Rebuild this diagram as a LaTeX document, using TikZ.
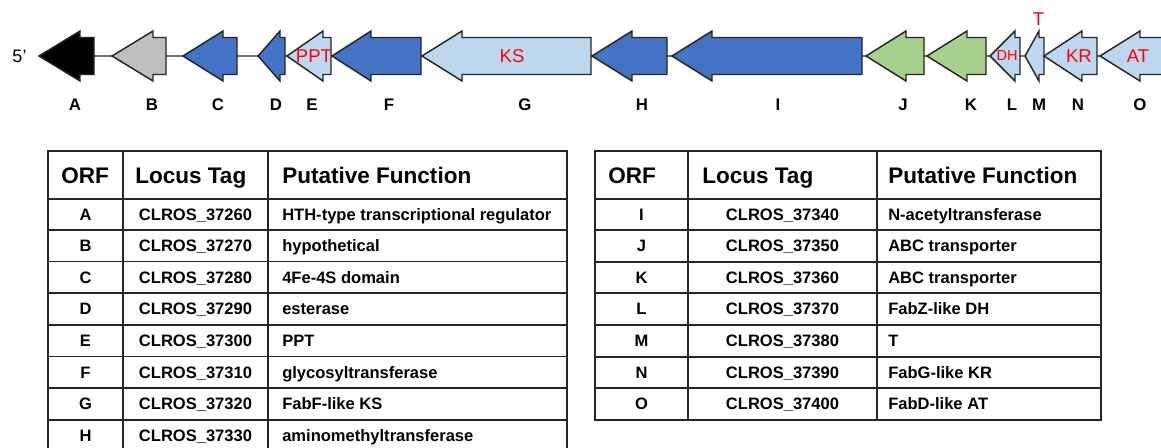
\documentclass[tikz,border=0pt]{standalone}
\usepackage{fontspec}
\setmainfont{Liberation Sans}
\definecolor{dblue}{HTML}{4472C4}
\definecolor{lblue}{HTML}{BDD7EE}
\definecolor{lgreen}{HTML}{A9D18E}
\definecolor{lgray}{HTML}{BFBFBF}
\definecolor{outl}{HTML}{262626}
\definecolor{redlab}{HTML}{FF0000}
\newcommand{\genearrow}[4]{% tip, base, end, fill
  \draw[genebox, fill=#4] (#1,56) -- (#2,31) -- (#2,37.5) -- (#3,37.5) -- (#3,74.5) -- (#2,74.5) -- (#2,81) -- cycle;}
\tikzset{
  genebox/.style={draw=outl, line width=1.1pt, line join=miter},
  genelab/.style={font=\fontsize{12.6}{14}\selectfont\bfseries, anchor=base, inner sep=0pt},
  redlab/.style={font=\fontsize{13.9}{16}\selectfont, text=redlab, inner sep=0pt},
  tabline/.style={draw=outl, line width=1.2pt},
  headtxt/.style={font=\fontsize{16.9}{19}\selectfont\bfseries, anchor=base west, inner sep=0pt},
  celltxt/.style={font=\fontsize{12.4}{14}\selectfont\bfseries, anchor=base, inner sep=0pt},
  celltxtl/.style={font=\fontsize{12.4}{14}\selectfont\bfseries, anchor=base west, inner sep=0pt},
}
\begin{document}
\begin{tikzpicture}[x=0.75pt,y=-0.75pt]
\useasboundingbox (0,0) rectangle (1161,447);
\clip (0,0) rectangle (1161,447);
% backbone
\coordinate (bbL) at (39,56);
\coordinate (bbR) at (1161,56);
\draw[draw=gray!90!black, line width=0.8pt] (bbL) -- (bbR);
\node[font=\fontsize{13.5}{16}\selectfont, inner sep=0pt] (five) at (19.5,56.5) {5’};
% genes
\genearrow{39}{80}{94}{black}
\genearrow{112}{153}{166}{lgray}
\genearrow{183}{223}{237}{dblue}
\genearrow{258}{280}{285}{dblue}
\genearrow{287}{323}{331}{lblue}
\genearrow{332}{371}{421}{dblue}
\genearrow{422}{462}{591}{lblue}
\genearrow{592}{632}{667}{dblue}
\genearrow{672}{712}{862}{dblue}
\genearrow{866}{906}{924}{lgreen}
\genearrow{927}{967}{986}{lgreen}
\genearrow{990}{1015}{1020}{lblue}
\genearrow{1025}{1039}{1044}{lblue}
\genearrow{1044}{1082}{1097}{lblue}
\genearrow{1100}{1140}{1180}{lblue}
% red domain labels
\node[redlab] (ppt) at (314,56) {PPT};
\node[redlab] (ks) at (512,56.5) {KS};
\node[redlab, font=\fontsize{10.9}{12}\selectfont] (dh) at (1007,55) {DH};
\node[redlab] (tt) at (1038.5,19) {T};
\node[redlab] (kr) at (1079,56.5) {KR};
\node[redlab] (at) at (1138,56.5) {AT};
% gene letters
\foreach \n/\x in {A/75,B/152,C/218,D/276,E/312,F/389,G/525,H/642,I/778,J/903,K/971,L/1012,M/1039,N/1078,O/1140}
  \node[genelab] (lab\n) at (\x,110) {\n};
% left table
\draw[tabline] (48,151) rectangle (567,460);
\foreach \x in {123,268} \draw[tabline] (\x,151) -- (\x,460);
\foreach \y in {199,230,261.5,293,325,356.5,388,420} \draw[tabline] (48,\y) -- (567,\y);
\node[headtxt] (lh1) at (61,183) {ORF};
\node[headtxt] (lh2) at (135,183) {Locus Tag};
\node[headtxt] (lh3) at (282,183) {Putative Function};
\foreach \y/\o/\t/\f in {214.5/A/37260/HTH-type transcriptional regulator,
  245.75/B/37270/hypothetical,
  277.25/C/37280/4Fe-4S domain,
  309/D/37290/esterase,
  340.75/E/37300/PPT,
  372.25/F/37310/glycosyltransferase,
  404/G/37320/FabF-like KS,
  436/H/37330/aminomethyltransferase}{
  \node[celltxt] (lo\o) at (85.5,\y+5.9) {\o};
  \node[celltxt] (lt\o) at (195.5,\y+5.9) {CLROS\_\t};
  \node[celltxtl] (lf\o) at (282,\y+5.9) {\f};
}
% right table
\draw[tabline] (595,151) rectangle (1101,420);
\foreach \x in {688,877} \draw[tabline] (\x,151) -- (\x,420);
\foreach \y in {199,230,262,293,325,357,388} \draw[tabline] (595,\y) -- (1101,\y);
\node[headtxt] (rh1) at (608,183) {ORF};
\node[headtxt] (rh2) at (702,183) {Locus Tag};
\node[headtxt] (rh3) at (888,183) {Putative Function};
\foreach \y/\o/\t/\f in {214.5/I/37340/N-acetyltransferase,
  246/J/37350/ABC transporter,
  277.5/K/37360/ABC transporter,
  309/L/37370/FabZ-like DH,
  341/M/37380/T,
  372.5/N/37390/FabG-like KR,
  404/O/37400/FabD-like AT}{
  \node[celltxt] (ro\o) at (641.5,\y+5.9) {\o};
  \node[celltxt] (rt\o) at (782.5,\y+5.9) {CLROS\_\t};
  \node[celltxtl] (rf\o) at (888,\y+5.9) {\f};
}
\end{tikzpicture}
\end{document}
